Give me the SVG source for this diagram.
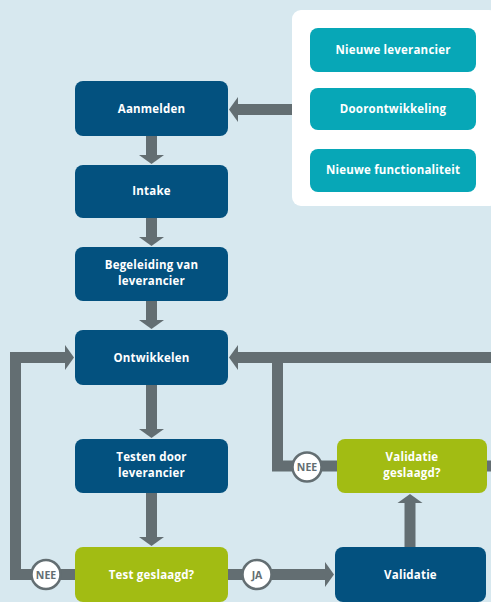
<svg xmlns="http://www.w3.org/2000/svg" width="491" height="602" viewBox="0 0 491 602">
  <style>
    .bg { fill: #d7e8ef; }
    .panel { fill: #ffffff; }
    .step { fill: #03517f; }
    .source { fill: #07a7b7; }
    .check { fill: #a2bc13; }
    .lbl { fill: #ffffff; font-family: "Open Sans", "DejaVu Sans", sans-serif; font-weight: bold; font-size: 11.5px; letter-spacing: 0.2px; text-anchor: middle; }
    .flow { fill: none; stroke: #636e72; stroke-width: 11; stroke-linejoin: miter; }
    .badge { fill: #ffffff; stroke: #636e72; stroke-width: 2.5; }
    .badge-txt { fill: #636e72; font-family: "Open Sans", "DejaVu Sans", sans-serif; font-weight: bold; font-size: 10.5px; text-anchor: middle; }
  </style>
  <defs>
    <marker id="head" markerUnits="userSpaceOnUse" markerWidth="10" markerHeight="26" viewBox="0 -13 10 26" refX="0" refY="0" orient="auto">
      <path d="M0,-12.5 L9,0 L0,12.5 Z" fill="#636e72"/>
    </marker>
  </defs>

  <rect class="bg" x="0" y="0" width="491" height="602"/>

  <!-- white panel holding the three entry routes -->
  <rect class="panel" x="292" y="10" width="206" height="196" rx="9"/>

  <g id="connectors">
    <path class="flow" d="M292,109.5 H238" marker-end="url(#head)"/>
    <path class="flow" d="M151.5,136 V155" marker-end="url(#head)"/>
    <path class="flow" d="M151.5,218 V237" marker-end="url(#head)"/>
    <path class="flow" d="M151.5,301 V320" marker-end="url(#head)"/>
    <path class="flow" d="M151.5,385 V429" marker-end="url(#head)"/>
    <path class="flow" d="M151.5,493 V537" marker-end="url(#head)"/>
    <path class="flow" d="M228,574.5 H325" marker-end="url(#head)"/>
    <path class="flow" d="M75,574.5 H15.5 V357.5 H65" marker-end="url(#head)"/>
    <path class="flow" d="M410,547 V503" marker-end="url(#head)"/>
    <path class="flow" d="M491,357.5 H238" marker-end="url(#head)"/>
    <path class="flow" d="M337,466 H277.5 V357.5"/>
    <path class="flow" d="M487,466 H491"/>
  </g>

  <g id="nieuwe-leverancier">
    <rect class="source" x="310" y="28" width="166" height="44" rx="8"/>
    <text class="lbl" x="393" y="54">Nieuwe leverancier</text>
  </g>
  <g id="doorontwikkeling">
    <rect class="source" x="310" y="88" width="166" height="42" rx="8"/>
    <text class="lbl" x="393" y="113">Doorontwikkeling</text>
  </g>
  <g id="nieuwe-functionaliteit">
    <rect class="source" x="310" y="149" width="166" height="43" rx="8"/>
    <text class="lbl" x="393" y="174">Nieuwe functionaliteit</text>
  </g>

  <g id="aanmelden">
    <rect class="step" x="75" y="81" width="153" height="55" rx="8"/>
    <text class="lbl" x="151.5" y="112.5">Aanmelden</text>
  </g>
  <g id="intake">
    <rect class="step" x="75" y="165" width="153" height="53" rx="8"/>
    <text class="lbl" x="151.5" y="195">Intake</text>
  </g>
  <g id="begeleiding">
    <rect class="step" x="75" y="247" width="153" height="54" rx="8"/>
    <text class="lbl" x="151.5" y="269">Begeleiding van</text>
    <text class="lbl" x="151.5" y="285">leverancier</text>
  </g>
  <g id="ontwikkelen">
    <rect class="step" x="75" y="330" width="153" height="55" rx="8"/>
    <text class="lbl" x="151.5" y="361.5">Ontwikkelen</text>
  </g>
  <g id="testen">
    <rect class="step" x="75" y="439" width="153" height="54" rx="8"/>
    <text class="lbl" x="151.5" y="461">Testen door</text>
    <text class="lbl" x="151.5" y="477">leverancier</text>
  </g>
  <g id="test-geslaagd">
    <rect class="check" x="75" y="547" width="153" height="55" rx="8"/>
    <text class="lbl" x="151.5" y="578.5">Test geslaagd?</text>
  </g>
  <g id="validatie">
    <rect class="step" x="335" y="547" width="151" height="55" rx="8"/>
    <text class="lbl" x="410.5" y="578.5">Validatie</text>
  </g>
  <g id="validatie-geslaagd">
    <rect class="check" x="337" y="439" width="150" height="54" rx="8"/>
    <text class="lbl" x="412" y="461">Validatie</text>
    <text class="lbl" x="412" y="477">geslaagd?</text>
  </g>

  <g id="nee-test">
    <circle class="badge" cx="46" cy="574.5" r="14.5"/>
    <text class="badge-txt" x="46" y="578.5">NEE</text>
  </g>
  <g id="ja-test">
    <circle class="badge" cx="257" cy="574.5" r="14.5"/>
    <text class="badge-txt" x="257" y="578.5">JA</text>
  </g>
  <g id="nee-validatie">
    <circle class="badge" cx="307" cy="467" r="14.5"/>
    <text class="badge-txt" x="307" y="471">NEE</text>
  </g>
</svg>
